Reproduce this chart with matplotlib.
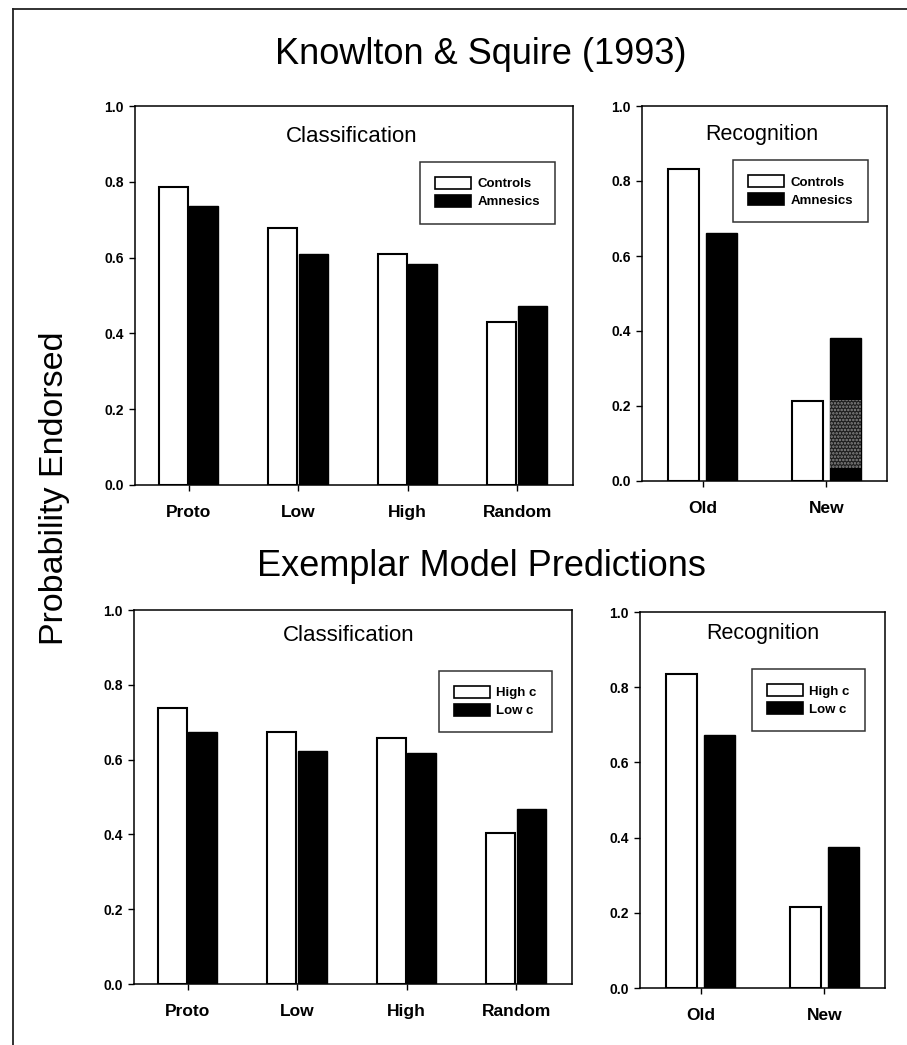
import matplotlib
matplotlib.use("Agg")
import matplotlib.pyplot as plt
from matplotlib.lines import Line2D
from matplotlib.patches import Patch
import numpy as np

plt.rcParams['font.family'] = ['Liberation Sans', 'DejaVu Sans']
plt.rcParams['hatch.linewidth'] = 1.2

# ---------------- data ----------------
class_categories = ["Proto", "Low", "High", "Random"]
recog_categories = ["Old", "New"]

ks_class_controls = [0.785, 0.677, 0.609, 0.429]
ks_class_amnesics = [0.736, 0.610, 0.582, 0.472]
ks_recog_controls = [0.832, 0.213]
ks_recog_amnesics = [0.661, 0.381]
# stippled segment drawn inside the amnesics "New" bar (bottom, top)
ks_recog_stipple_bottom = [0.034]
ks_recog_stipple_top = [0.215]

ex_class_high_c = [0.739, 0.674, 0.657, 0.405]
ex_class_low_c = [0.673, 0.624, 0.617, 0.467]
ex_recog_high_c = [0.834, 0.215]
ex_recog_low_c = [0.672, 0.374]

top_legend = ["Controls", "Amnesics"]
bottom_legend = ["High c", "Low c"]

y_ticks = [0.0, 0.2, 0.4, 0.6, 0.8, 1.0]

# ---------------- figure ----------------
W, H = 907, 1045
fig = plt.figure(figsize=(W / 100, H / 100), dpi=100)


def px_axes(x0, y0, x1, y1):
    return fig.add_axes([x0 / W, 1 - y1 / H, (x1 - x0) / W, (y1 - y0) / H])


def style(ax, cats, xlim):
    ax.set_ylim(0, 1.0)
    ax.set_xlim(*xlim)
    ax.set_yticks(y_ticks)
    ax.set_yticklabels([f"{v:.1f}" for v in y_ticks], fontweight='bold')
    ax.set_xticks(np.arange(len(cats)))
    ax.set_xticklabels(cats, fontweight='bold')
    ax.tick_params(axis='y', direction='out', length=4, width=1, pad=4,
                   labelsize=10, colors='black')
    ax.tick_params(axis='x', direction='out', length=4, width=1, pad=10.5,
                   labelsize=12.5, colors='black')
    for s in ax.spines.values():
        s.set_linewidth(1.1)
        s.set_color('black')


def add_legend(ax, labels, anchor):
    handles = [Patch(facecolor='white', edgecolor='black', linewidth=1.2),
               Patch(facecolor='black', edgecolor='black', linewidth=1.2)]
    leg = ax.legend(handles, labels, loc='upper right', bbox_to_anchor=anchor,
                    prop={'size': 9.5, 'weight': 'bold'}, frameon=True,
                    fancybox=False, handlelength=2.7, handleheight=1.0,
                    handletextpad=0.5, borderpad=1.15, labelspacing=0.35,
                    borderaxespad=0)
    leg.get_frame().set_edgecolor('black')
    leg.get_frame().set_linewidth(1.1)


def grouped(ax, a, b, width, off):
    x = np.arange(len(a))
    ax.bar(x - off, a, width, facecolor='white', edgecolor='black', linewidth=1.5)
    ax.bar(x + off, b, width, facecolor='black', edgecolor='black', linewidth=1.0)
    return x


# Top-left: Knowlton & Squire classification
ax1 = px_axes(135, 106, 573, 485)
grouped(ax1, ks_class_controls, ks_class_amnesics, 0.265, 0.14)
style(ax1, class_categories, (-0.49, 3.51))
ax1.text(0.495, 0.92, "Classification", transform=ax1.transAxes,
         ha='center', va='center', fontsize=16)
add_legend(ax1, top_legend, (0.959, 0.853))

# Top-right: Knowlton & Squire recognition
ax2 = px_axes(642, 106, 887, 481)
xr = grouped(ax2, ks_recog_controls, ks_recog_amnesics, 0.25, 0.155)
ax2.bar(xr[1:] + 0.155, np.array(ks_recog_stipple_top) - np.array(ks_recog_stipple_bottom),
        0.25, bottom=ks_recog_stipple_bottom, facecolor='#1e1e1e',
        edgecolor='#8a8a8a', hatch='.....', linewidth=0)
style(ax2, recog_categories, (-0.49, 1.49))
ax2.text(0.49, 0.925, "Recognition", transform=ax2.transAxes,
         ha='center', va='center', fontsize=15.5)
add_legend(ax2, top_legend, (0.924, 0.856))

# Bottom-left: exemplar model classification
ax3 = px_axes(134, 610, 572, 984)
grouped(ax3, ex_class_high_c, ex_class_low_c, 0.265, 0.14)
style(ax3, class_categories, (-0.49, 3.51))
ax3.text(0.49, 0.933, "Classification", transform=ax3.transAxes,
         ha='center', va='center', fontsize=16)
add_legend(ax3, bottom_legend, (0.954, 0.838))

# Bottom-right: exemplar model recognition
ax4 = px_axes(640, 612, 885, 988)
grouped(ax4, ex_recog_high_c, ex_recog_low_c, 0.25, 0.155)
style(ax4, recog_categories, (-0.49, 1.49))
ax4.text(0.5, 0.944, "Recognition", transform=ax4.transAxes,
         ha='center', va='center', fontsize=15.5)
add_legend(ax4, bottom_legend, (0.918, 0.848))

# Section titles and shared y label
fig.text(481 / W, 1 - 55 / H, "Knowlton & Squire (1993)", ha='center',
         va='center', fontsize=26)
fig.text(481 / W, 1 - 567 / H, "Exemplar Model Predictions", ha='center',
         va='center', fontsize=26)
fig.text(55 / W, 1 - 488 / H, "Probability Endorsed", ha='center',
         va='center', rotation=90, fontsize=24.5)

# Page border (left and top edges of the scanned page)
fig.add_artist(Line2D([13 / W, 13 / W], [0, 1 - 9 / H], transform=fig.transFigure,
                      color='#222222', linewidth=1.3))
fig.add_artist(Line2D([13 / W, 1.0], [1 - 9 / H, 1 - 9 / H], transform=fig.transFigure,
                      color='#222222', linewidth=1.3))

fig.savefig("out.png", dpi=100, facecolor='white')
